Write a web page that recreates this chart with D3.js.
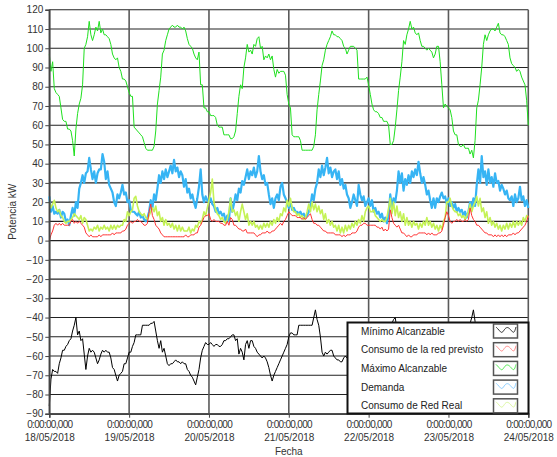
<!DOCTYPE html>
<html><head><meta charset="utf-8">
<script src="https://cdn.jsdelivr.net/npm/d3@7"></script>
<style>
body{margin:0;background:#fff;}
svg{display:block;font-family:"Liberation Sans",Arial,sans-serif;}
</style></head>
<body><svg id="chart" width="557" height="457"></svg>
<script>
// ---- data (30-minute samples from 18/05/2018 00:00 to 24/05/2018 00:00) ----
const startDate = "2018-05-18T00:00:00Z";
const endDate = "2018-05-24T00:00:00Z";
const stepMinutes = 30;

const seriesNames = ["Mínimo Alcanzable","Consumo de la red previsto","Máximo Alcanzable","Demanda","Consumo de Red Real"];
const yTicks = [120,110,100,90,80,70,60,50,40,30,20,10,0,-10,-20,-30,-40,-50,-60,-70,-80,-90];
const xTickTime = "0:00:00,000";

const maximo = [
97,88,93,79,77,76,75,69,63,62,62,58,58,57,52,44,58,66,71,74,81,100,102,106,114,107,104,107,111,109,114,108,110,107,107,106,105,102,97,95,94,95,90,88,84,84,83,80,
77,75,75,59,58,57,56,55,54,51,48,47,47,47,47,49,57,71,78,85,97,99,104,107,110,111,112,111,111,112,111,111,110,111,109,105,102,101,100,97,95,94,98,81,81,69,69,67,
67,65,65,65,64,60,59,59,59,55,55,55,55,53,53,54,57,66,75,81,79,90,95,102,98,99,97,102,101,105,106,100,101,94,96,95,97,94,96,89,85,89,87,88,88,88,86,76,
71,69,55,54,54,54,54,52,47,47,47,47,47,47,47,49,55,68,76,83,91,94,99,102,104,106,109,107,107,106,106,105,104,101,100,97,99,101,101,101,100,99,84,84,84,84,84,85,
81,76,71,68,67,67,66,64,64,62,62,62,60,50,50,52,59,68,78,85,93,104,102,107,110,114,110,111,108,107,108,104,101,101,100,99,100,99,98,95,97,101,101,93,81,69,71,70,
69,68,64,57,55,55,50,49,49,50,48,48,48,45,47,43,52,69,73,81,90,102,107,104,107,109,110,110,109,111,113,108,107,107,106,104,102,95,92,91,90,88,89,88,85,83,81,73,
60];

const minimo = [
-86,-72,-67,-68,-68,-69,-64,-61,-57,-57,-55,-54,-52,-51,-47,-44,-40,-49,-47,-52,-51,-59,-67,-60,-56,-58,-57,-58,-61,-64,-62,-59,-57,-58,-57,-58,-58,-61,-66,-67,-70,-73,-70,-69,-68,-64,-64,-61,
-58,-58,-55,-53,-49,-49,-49,-49,-44,-44,-44,-44,-44,-43,-43,-42,-47,-52,-56,-52,-58,-56,-60,-64,-65,-64,-64,-63,-62,-63,-63,-64,-63,-64,-64,-67,-68,-70,-71,-73,-75,-71,-67,-61,-57,-55,-53,-54,
-54,-53,-54,-55,-54,-54,-55,-55,-54,-52,-52,-51,-51,-50,-49,-49,-52,-51,-59,-56,-58,-62,-54,-52,-56,-52,-52,-55,-56,-58,-59,-60,-61,-60,-61,-63,-66,-70,-73,-70,-68,-66,-64,-62,-60,-58,-56,-54,
-50,-48,-48,-49,-49,-49,-44,-44,-44,-44,-44,-44,-44,-44,-44,-40,-36,-41,-44,-50,-58,-60,-58,-59,-58,-57,-57,-60,-61,-62,-62,-63,-63,-61,-60,-61,-62,-63,-65,-67,-69,-70,-68,-65,-62,-59,-57,-55,
-53,-52,-51,-50,-49,-48,-47,-46,-46,-45,-45,-45,-44,-44,-43,-41,-40,-46,-52,-56,-58,-60,-59,-58,-60,-61,-60,-62,-63,-62,-64,-65,-64,-66,-67,-68,-70,-71,-72,-70,-67,-64,-61,-58,-56,-54,-53,-52,
-51,-50,-49,-48,-47,-46,-46,-45,-45,-44,-44,-44,-43,-43,-40,-36,-42,-48,-53,-57,-59,-58,-60,-61,-60,-62,-63,-62,-64,-65,-64,-66,-67,-66,-68,-69,-70,-71,-70,-68,-66,-64,-62,-60,-58,-57,-56,-55,
-54];

const demanda = [
23,15,18,14,15,14,16,12,15,14,10,11,8,13,17,13,20,17,27,30,34,30,35,36,43,37,32,36,30,35,37,37,45,41,32,36,29,27,25,20,18,24,22,25,29,24,25,20,
21,16,15,15,14,13,15,12,13,11,10,12,15,21,17,24,21,27,34,30,36,32,37,33,36,39,35,42,36,38,33,36,34,28,32,25,27,22,24,20,17,22,28,37,24,20,23,21,
20,22,19,18,15,17,14,15,13,14,10,13,10,22,15,19,24,21,27,25,31,29,33,37,32,36,34,38,33,36,44,36,32,34,29,30,24,19,22,17,22,24,21,28,30,24,22,20,
17,20,16,17,15,15,14,15,13,14,12,13,15,18,24,21,27,30,37,33,39,34,38,43,35,38,33,36,37,32,36,29,32,27,29,24,22,17,20,24,21,18,29,24,21,23,18,20,
22,18,21,15,17,14,15,12,14,10,12,9,13,24,17,22,20,26,36,30,35,26,32,29,34,30,36,33,37,34,41,35,30,33,29,24,26,21,17,22,17,22,20,23,25,22,23,19,
22,18,20,17,19,15,17,15,16,13,15,12,15,20,17,22,18,29,37,30,44,33,36,29,37,30,33,28,35,30,31,26,29,27,24,26,22,21,23,18,24,20,22,28,21,23,18,21,
17];

const previsto = [
0,3,5,8,9,8,9,8,9,8,8,8,8,10,11,9,10,9,10,9,8,7,4,3,2,3,2,2,2,2,3,2,3,3,3,3,3,3,4,3,4,4,4,4,5,5,6,8,
9,10,9,10,10,11,10,10,9,8,8,9,15,19,13,11,8,7,6,4,3,2,2,2,2,2,2,2,2,2,2,2,2,2,3,2,2,3,3,3,4,4,7,8,10,12,13,13,
14,11,10,11,10,10,10,9,9,8,8,10,8,12,11,8,8,7,6,6,5,5,6,4,4,4,4,4,3,2,3,3,4,4,4,5,4,4,5,5,6,7,8,9,8,10,11,13,
15,14,13,13,13,12,12,12,11,12,11,12,13,14,11,9,9,8,8,7,6,5,5,4,4,4,4,4,3,3,3,3,2,3,2,3,3,3,4,4,4,5,7,8,8,9,9,8,
8,8,8,8,8,7,7,6,7,5,6,5,6,16,12,9,8,7,8,6,4,4,3,2,3,2,2,3,3,3,4,4,4,4,4,3,4,3,4,3,3,3,4,4,5,8,12,15,
13,10,9,10,10,11,10,11,10,10,11,10,11,17,13,11,10,8,8,7,6,5,4,4,3,3,3,2,3,2,3,2,3,2,3,2,3,3,3,4,3,4,4,5,6,7,8,10,
13];

const real = [
20,17,19,21,17,15,16,13,12,10,9,10,10,11,12,14,13,12,11,13,9,12,11,8,5,6,5,7,6,8,5,7,6,8,6,7,5,8,6,8,6,8,7,8,8,11,10,15,
13,15,16,22,23,18,15,14,13,14,12,11,13,15,17,15,18,13,15,10,12,8,11,8,9,7,9,6,8,5,8,5,7,5,5,5,7,4,6,5,8,7,10,9,11,15,13,17,
21,25,32,20,16,14,13,11,12,10,9,11,15,22,15,16,13,15,10,15,19,15,11,14,8,10,8,10,7,8,6,8,6,9,7,9,7,10,8,11,9,12,10,14,13,17,15,21,
18,22,17,15,15,13,14,12,13,11,12,15,19,15,20,16,19,15,18,14,16,11,14,9,11,8,10,7,8,5,8,4,7,4,8,5,8,6,9,7,10,8,11,9,13,10,15,17,
18,15,15,16,13,12,11,10,11,10,10,12,17,22,14,20,13,18,12,15,10,14,8,12,8,10,7,10,8,9,6,9,7,10,8,12,8,10,7,9,6,8,5,8,6,10,12,20,
20,22,18,16,15,15,13,14,12,13,11,13,15,19,15,18,20,23,18,22,15,17,12,15,9,12,8,10,7,9,6,8,5,8,6,9,6,9,7,10,7,10,8,10,8,12,10,13,
12];

// ---- drawing ----
const svg = d3.select("#chart");
const t0 = new Date(startDate), t1 = new Date(endDate);
const x = d3.scaleUtc().domain([t0, t1]).range([49.3, 528.3]);
const y = d3.scaleLinear().domain([-90, 120]).range([413.74, 9.79]);
const timeAt = i => new Date(t0.getTime() + i * stepMinutes * 60000);

const textColor = "#333";
const font = "'Liberation Sans', Arial, sans-serif";

// horizontal gridlines
svg.append("g").selectAll("line").data(yTicks).join("line")
  .attr("x1", x(t0)).attr("x2", x(t1))
  .attr("y1", d => y(d)).attr("y2", d => y(d))
  .attr("stroke", "#222").attr("stroke-width", 1.1);

// vertical gridlines
const days = d3.utcDay.range(t0, new Date(t1.getTime() + 1));
svg.append("g").selectAll("line").data(days).join("line")
  .attr("x1", d => x(d)).attr("x2", d => x(d))
  .attr("y1", y(120)).attr("y2", y(-90))
  .attr("stroke", "#5a5a5a").attr("stroke-width", 1.6);

// lines
const line = d3.line().x((d, i) => x(timeAt(i))).y(d => y(d));
const series = [
  {name: seriesNames[2], data: maximo, color: "#1fe01f", w: 1},
  {name: seriesNames[0], data: minimo, color: "#000", w: 1},
  {name: seriesNames[3], data: demanda, color: "#36b4f4", w: 2.2},
  {name: seriesNames[4], data: real, color: "#c4f255", w: 1.6},
  {name: seriesNames[1], data: previsto, color: "#ff3434", w: 1}
];
svg.append("g").selectAll("path").data(series).join("path")
  .attr("d", d => line(d.data))
  .attr("fill", "none")
  .attr("stroke", d => d.color)
  .attr("stroke-width", d => d.w)
  .attr("stroke-linejoin", "round");

// y axis
const yAxis = d3.axisLeft(y).tickValues(yTicks).tickSize(4).tickPadding(2).tickFormat(d3.format("d"));
const gy = svg.append("g").attr("transform", `translate(${x(t0)},0)`).call(yAxis);
gy.select(".domain").attr("stroke", "#444").attr("stroke-width", 1.5);
gy.selectAll(".tick line").attr("stroke", "#444");
gy.selectAll(".tick text").attr("fill", textColor).style("font-size", "10px").style("font-family", font);

// x axis
const xAxis = d3.axisBottom(x).tickValues(days).tickSize(4).tickFormat(() => "");
const gx = svg.append("g").attr("transform", `translate(0,${y(-90)})`).call(xAxis);
gx.select(".domain").attr("stroke", "#444").attr("stroke-width", 1.5);
gx.selectAll(".tick line").attr("stroke", "#444");
const fmt = d3.utcFormat("%d/%m/%Y");
gx.selectAll(".tick text").each(function(d) {
  const t = d3.select(this).attr("y", null).attr("dy", null)
    .attr("fill", textColor).style("font-size", "10px").style("font-family", font);
  t.append("tspan").attr("x", 0).attr("y", 14).style("letter-spacing", "-0.7px").text(xTickTime);
  t.append("tspan").attr("x", 0).attr("y", 27.5).text(fmt(d));
});

// axis titles
svg.append("text").attr("x", (x(t0) + x(t1)) / 2).attr("y", 455)
  .attr("text-anchor", "middle").attr("fill", textColor).style("font-size", "10px").text("Fecha");
svg.append("text").attr("transform", `translate(16,${(y(120) + y(-90)) / 2}) rotate(-90)`)
  .attr("text-anchor", "middle").attr("fill", textColor).style("font-size", "10px").text("Potencia kW");

// legend
const legendOrder = [
  {name: seriesNames[0], color: "#333"},
  {name: seriesNames[1], color: "#ff8a8a"},
  {name: seriesNames[2], color: "#55ea55"},
  {name: seriesNames[3], color: "#8ccfff"},
  {name: seriesNames[4], color: "#dcf7a0"}
];
const lg = svg.append("g");
lg.append("rect").attr("x", 347.5).attr("y", 322.5).attr("width", 181).attr("height", 91)
  .attr("fill", "#fff").attr("stroke", "#111").attr("stroke-width", 2);
const rows = lg.selectAll("g.row").data(legendOrder).join("g").attr("class", "row")
  .attr("transform", (d, i) => `translate(0,${331 + i * 18.7})`);
rows.append("text").attr("x", 361).attr("y", 3.6).attr("fill", "#222")
  .style("font-size", "10px").text(d => d.name);
rows.append("rect").attr("x", 493.5).attr("y", -7).attr("width", 24).attr("height", 14)
  .attr("fill", "#fff").attr("stroke", "#555").attr("stroke-width", 1.5);
const wave = d3.line().curve(d3.curveBasis);
rows.append("path")
  .attr("d", wave([[496,-4],[499,-1],[502,3],[505,-3],[508,-4],[511,-1],[514,3],[516,-4]]))
  .attr("fill", "none").attr("stroke", d => d.color).attr("stroke-width", 1);
</script>
</body></html>
